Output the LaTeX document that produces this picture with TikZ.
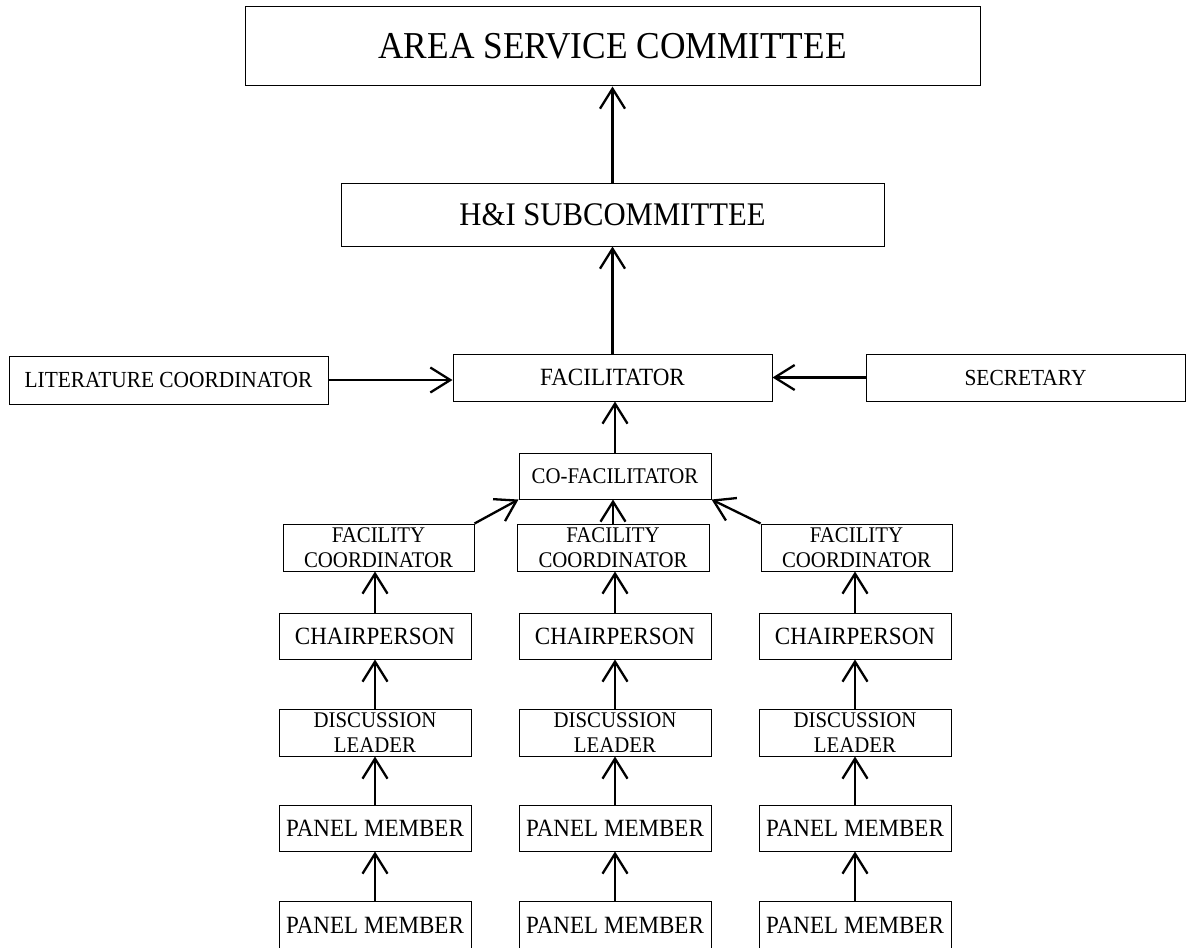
\documentclass[tikz,border=0pt]{standalone}
\usepackage{fontspec}
\setmainfont[FakeStretch=0.93]{Liberation Serif}
\usetikzlibrary{arrows.meta}
\newcommand{\bxat}[7]{\node[#6, minimum width={(#3-#1)*0.5pt}, minimum height={(#4-#2)*0.5pt}] (#5) at ({(#1+#3)/2},{(#2+#4)/2}) {#7};}
\tikzset{
  bx/.style={draw, line width=0.5pt, inner sep=0pt, align=center},
  big/.style={font=\fontsize{19}{22}\selectfont},
  hi/.style={font=\fontsize{16.5}{19}\selectfont},
  mid/.style={font=\fontsize{12.4}{14}\selectfont},
  sml/.style={font=\fontsize{11.5}{13}\selectfont},
  two/.style={font=\fontsize{11.2}{12.5}\selectfont},
  conn/.style={line width=1.15pt, -{Straight Barb[length=10pt,width=12.5pt]}},
}
\begin{document}
\begin{tikzpicture}[x=0.5pt,y=-0.5pt]
\fill[white] (0,0) rectangle (1186,947);
\clip (0,0) rectangle (1186,947);
% top
\bxat{245}{7}{980}{86}{asc}{bx,big}{AREA SERVICE COMMITTEE}
\bxat{341}{183}{884}{246}{hic}{bx,hi}{H\&I SUBCOMMITTEE}
\bxat{9}{356}{328}{404}{lit}{bx,sml}{LITERATURE COORDINATOR}
\bxat{453}{354}{772}{401}{fac}{bx,mid}{FACILITATOR}
\bxat{866}{354}{1185}{401}{sec}{bx,sml}{SECRETARY}
\bxat{519}{453}{711}{499}{cof}{bx,two}{CO-FACILITATOR}
% facility coordinators
\bxat{283}{524}{474}{571}{fcL}{bx,two}{FACILITY\\COORDINATOR}
\bxat{517}{524}{709}{571}{fcM}{bx,two}{FACILITY\\COORDINATOR}
\bxat{761}{524}{952}{571}{fcR}{bx,two}{FACILITY\\COORDINATOR}
% chairpersons
\bxat{279}{613}{471}{659}{chL}{bx,mid}{CHAIRPERSON}
\bxat{519}{613}{711}{659}{chM}{bx,mid}{CHAIRPERSON}
\bxat{759}{613}{951}{659}{chR}{bx,mid}{CHAIRPERSON}
% discussion leaders
\bxat{279}{709}{471}{756}{dlL}{bx,two}{DISCUSSION\\LEADER}
\bxat{519}{709}{711}{756}{dlM}{bx,two}{DISCUSSION\\LEADER}
\bxat{759}{709}{951}{756}{dlR}{bx,two}{DISCUSSION\\LEADER}
% panel members
\bxat{279}{805}{471}{851}{paL}{bx,mid}{PANEL MEMBER}
\bxat{519}{805}{711}{851}{paM}{bx,mid}{PANEL MEMBER}
\bxat{759}{805}{951}{851}{paR}{bx,mid}{PANEL MEMBER}
\bxat{279}{901}{471}{950}{pbL}{bx,mid}{PANEL MEMBER}
\bxat{519}{901}{711}{950}{pbM}{bx,mid}{PANEL MEMBER}
\bxat{759}{901}{951}{950}{pbR}{bx,mid}{PANEL MEMBER}
% connectors
\draw[conn] (hic.north) -- (asc.south);
\draw[conn] (fac.north) -- (hic.south);
\draw[conn] (lit.east) -- (lit.east -| fac.west);
\draw[conn] (sec.west) -- (fac.east);
\draw[conn] (cof.north) -- (cof.north |- fac.south);
\draw[conn] (fcL.north east) -- (cof.south west);
\draw[conn] (fcM.north) -- (fcM.north |- cof.south);
\draw[conn] (fcR.north west) -- (cof.south east);
\foreach \c in {L,M,R}{
  \draw[conn] (ch\c.north) -- (ch\c.north |- fc\c.south);
  \draw[conn] (dl\c.north) -- (ch\c.south);
  \draw[conn] (pa\c.north) -- (dl\c.south);
  \draw[conn] (pb\c.north) -- (pa\c.south);
}
\end{tikzpicture}
\end{document}
